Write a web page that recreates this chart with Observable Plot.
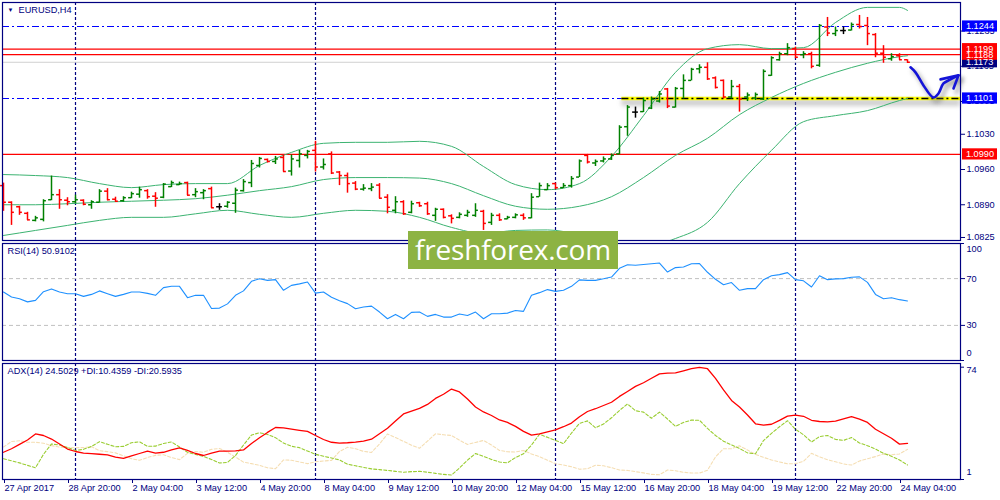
<!DOCTYPE html>
<html><head><meta charset="utf-8">
<script src="https://cdn.jsdelivr.net/npm/d3@7"></script>
<script src="https://cdn.jsdelivr.net/npm/@observablehq/plot@0.6"></script>
<style>
html,body{margin:0;padding:0;background:#fff;}
#chart{position:relative;width:1000px;height:500px;overflow:hidden;background:#fff;}
#chart svg{position:absolute;left:0;}
#wm{position:absolute;left:408px;top:231px;width:210px;height:38px;background:#8db343;color:#fff;
 font-family:"Open Sans",sans-serif;font-size:28px;line-height:36px;text-align:center;letter-spacing:-0.2px;}
</style></head><body><div id="chart"></div>
<script>
// ---------- DATA ----------
const symbol = "EURUSD,H4";
const opens = [1.0928,1.0895,1.0886,1.0873,1.0859,1.0861,1.0900,1.0910,1.0899,1.0896,
1.0899,1.0890,1.0895,1.0917,1.0901,1.0898,1.0904,1.0911,1.0918,1.0907,
1.0905,1.0926,1.0930,1.0934,1.0910,1.0914,1.0922,1.0886,1.0887,1.0893,
1.0918,1.0934,1.0968,1.0980,1.0976,1.0984,1.0957,1.0978,1.0988,1.0998,
1.0965,1.0991,1.0955,1.0948,1.0933,1.0921,1.0922,1.0929,1.0905,1.0879,
1.0896,1.0875,1.0894,1.0892,1.0869,1.0881,1.0868,1.0865,1.0869,1.0869,
1.0877,1.0855,1.0869,1.0862,1.0865,1.0869,1.0864,1.0906,1.0920,1.0932,
1.0924,1.0928,1.0945,1.0988,1.0973,1.0977,1.0981,1.0991,1.1045,1.1074,
1.1075,1.1082,1.1096,1.1120,1.1084,1.1121,1.1137,1.1160,1.1163,1.1142,
1.1137,1.1104,1.1125,1.1104,1.1102,1.1100,1.1147,1.1178,1.1190,1.1200,
1.1188,1.1190,1.1167,1.1243,1.1230,1.1236,1.1237,1.1248,1.1246,1.1228,
1.1191,1.1180,1.1186,1.1178];
const highs = [1.0933,1.0896,1.0887,1.0875,1.0867,1.0900,1.0947,1.0920,1.0904,1.0909,
1.0900,1.0898,1.0920,1.0922,1.0905,1.0906,1.0915,1.0925,1.0920,1.0914,
1.0932,1.0937,1.0935,1.0935,1.0922,1.0920,1.0925,1.0892,1.0896,1.0923,
1.0940,1.0978,1.0984,1.0981,1.0986,1.0988,1.0989,1.0998,1.0998,1.1016,
1.0981,1.0995,1.0956,1.0953,1.0936,1.0930,1.0932,1.0932,1.0910,1.0906,
1.0898,1.0897,1.0895,1.0895,1.0883,1.0882,1.0870,1.0874,1.0879,1.0892,
1.0879,1.0873,1.0872,1.0867,1.0872,1.0872,1.0912,1.0933,1.0932,1.0933,
1.0932,1.0946,1.0979,1.0990,1.0979,1.0985,1.0991,1.1047,1.1087,1.1084,
1.1102,1.1104,1.1115,1.1121,1.1123,1.1148,1.1161,1.1168,1.1172,1.1144,
1.1138,1.1137,1.1129,1.1112,1.1112,1.1158,1.1184,1.1193,1.1210,1.1203,
1.1194,1.1193,1.1248,1.1262,1.1243,1.1243,1.1251,1.1266,1.1262,1.1230,
1.1206,1.1190,1.1190,1.1178];
const lows = [1.0877,1.0849,1.0869,1.0859,1.0856,1.0856,1.0898,1.0881,1.0888,1.0892,
1.0888,1.0881,1.0893,1.0898,1.0895,1.0895,1.0902,1.0903,1.0901,1.0885,
1.0902,1.0924,1.0928,1.0908,1.0904,1.0900,1.0883,1.0879,1.0883,1.0873,
1.0915,1.0924,1.0963,1.0973,1.0970,1.0955,1.0947,1.0963,1.0981,1.0955,
1.0959,1.0950,1.0928,1.0913,1.0918,1.0917,1.0916,1.0902,1.0872,1.0872,
1.0869,1.0872,1.0885,1.0869,1.0857,1.0862,1.0852,1.0862,1.0865,1.0865,
1.0839,1.0849,1.0857,1.0860,1.0862,1.0859,1.0862,1.0905,1.0918,1.0920,
1.0922,1.0923,1.0944,1.0971,1.0966,1.0973,1.0978,1.0989,1.1026,1.1062,
1.1073,1.1079,1.1092,1.1081,1.1082,1.1100,1.1136,1.1150,1.1137,1.1120,
1.1100,1.1100,1.1074,1.1095,1.1097,1.1097,1.1145,1.1175,1.1186,1.1180,
1.1180,1.1160,1.1163,1.1224,1.1224,1.1228,1.1235,1.1239,1.1206,1.1182,
1.1171,1.1175,1.1177,1.1171];
const closes = [1.0895,1.0875,1.0875,1.0860,1.0864,1.0898,1.0910,1.0900,1.0896,1.0900,
1.0891,1.0896,1.0917,1.0900,1.0897,1.0904,1.0912,1.0920,1.0906,1.0903,
1.0931,1.0934,1.0932,1.0909,1.0916,1.0918,1.0884,1.0886,1.0895,1.0919,
1.0936,1.0972,1.0982,1.0976,1.0981,1.0956,1.0981,1.0991,1.0996,1.0965,
1.0970,1.0953,1.0948,1.0932,1.0921,1.0923,1.0925,1.0903,1.0885,1.0896,
1.0872,1.0892,1.0888,1.0872,1.0881,1.0865,1.0863,1.0871,1.0875,1.0879,
1.0853,1.0869,1.0860,1.0865,1.0870,1.0864,1.0905,1.0928,1.0928,1.0924,
1.0928,1.0942,1.0977,1.0975,1.0976,1.0981,1.0988,1.1044,1.1084,1.1074,
1.1097,1.1100,1.1110,1.1086,1.1121,1.1137,1.1159,1.1163,1.1140,1.1123,
1.1104,1.1125,1.1100,1.1108,1.1109,1.1155,1.1182,1.1190,1.1202,1.1183,
1.1190,1.1165,1.1246,1.1231,1.1236,1.1236,1.1248,1.1244,1.1230,1.1191,
1.1183,1.1184,1.1178,1.1173];

// Bollinger bands read at every 4th bar
const bbIdx = [0,4,8,12,16,20,24,28,32,36,40,44,48,52,56,60,64,68,72,76,80,84,88,92,96,100,104,108,112,113];
const bbUpper = [1.0950,1.0948,1.0944,1.0932,1.0924,1.0930,1.0932,1.0932,1.0968,1.0994,
1.1012,1.1014,1.1014,1.1016,1.1006,1.0966,1.0930,1.0920,1.0932,1.0986,
1.1067,1.1153,1.1200,1.1208,1.1200,1.1202,1.1252,1.1282,1.1282,1.1276];
const bbMiddle = [1.0890,1.0890,1.0892,1.0895,1.0897,1.0899,1.0902,1.0909,1.0918,1.0926,
1.0940,1.0944,1.0944,1.0943,1.0932,1.0908,1.0887,1.0881,1.0887,1.0906,
1.0944,1.0988,1.1022,1.1069,1.1103,1.1131,1.1153,1.1171,1.1184,1.1186];
const bbLower = [1.0829,1.0839,1.0849,1.0859,1.0865,1.0865,1.0872,1.0879,1.0871,1.0865,
1.0873,1.0879,1.0877,1.0865,1.0845,1.0833,1.0839,1.0840,1.0831,1.0819,
1.0807,1.0823,1.0855,1.0932,1.0998,1.1055,1.1067,1.1077,1.1097,1.1101];

const rsi = [58.5,54.2,52.8,50.1,51.4,58.8,61.2,58.5,57.1,57.1,
54.8,56.5,59.5,57.1,54.8,56.5,58.5,58.5,57.4,55.7,
62.3,63.4,63.4,53.7,55.7,55.7,44.5,44.8,48.4,55.7,
59.5,67.7,69.8,68.5,69.1,60.0,64.2,65.5,67.1,57.6,
58.5,54.0,51.0,48.6,44.3,45.7,46.5,41.4,35.7,39.4,
35.7,41.1,41.4,37.7,39.4,37.1,37.1,39.8,38.5,41.4,
35.7,40.0,40.0,40.5,42.8,42.0,55.7,58.0,60.6,59.1,
60.0,63.4,68.9,68.5,68.5,69.8,71.3,78.8,81.8,81.4,
82.0,82.7,83.3,75.6,79.4,79.9,82.7,82.8,75.4,69.4,
64.8,66.6,60.0,61.4,61.4,69.1,72.4,73.4,75.1,69.1,
68.1,62.8,72.4,69.1,69.8,70.0,71.1,71.5,66.8,56.5,
52.8,53.7,52.0,50.9102];
const adx = [18.7,21.0,23.8,26.7,30.6,29.6,27.3,24.1,20.8,19.2,
18.1,17.8,17.4,17.0,15.6,14.7,16.3,17.9,19.4,18.1,
18.7,20.2,21.5,19.9,17.9,16.6,18.2,19.4,19.4,19.6,
20.2,24.4,28.1,31.6,34.8,34.6,33.8,33.0,32.3,29.6,
27.0,25.2,24.7,24.9,25.3,26.0,27.2,30.7,34.3,39.0,
43.6,45.5,47.2,49.8,53.7,56.4,59.8,57.9,53.3,48.1,
44.9,42.6,39.7,38.1,35.5,32.3,29.8,30.6,31.9,33.3,
35.3,37.7,41.8,45.2,47.0,49.1,51.2,55.0,58.2,61.5,
63.9,66.8,69.7,70.2,70.3,71.6,73.0,73.9,73.0,66.7,
59.2,52.4,48.1,42.9,37.2,36.3,36.9,39.4,42.2,42.9,
42.1,39.5,38.7,38.4,39.0,40.4,41.8,40.2,38.1,33.7,
30.7,27.8,24.0,24.5029];
const plusDI = [14.5,13.2,11.8,10.2,8.6,17.4,24.1,23.4,21.8,19.9,
20.6,22.5,25.6,23.9,22.3,22.5,24.9,25.5,22.6,22.7,
24.4,25.4,22.1,18.7,17.3,16.0,14.0,11.7,12.1,16.6,
23.4,29.9,31.4,30.3,28.2,24.7,22.6,21.7,19.5,17.4,
16.1,15.0,13.7,10.9,9.9,8.9,7.9,7.4,6.9,6.3,
5.7,6.1,6.3,5.7,5.0,4.3,3.9,8.5,13.6,17.9,
16.0,14.0,12.4,11.8,15.3,17.7,23.4,30.4,28.4,26.4,
24.3,31.2,37.5,39.1,34.6,37.1,41.1,45.9,50.1,45.7,
44.8,40.8,44.8,40.3,35.5,38.1,39.6,39.5,34.2,29.6,
25.9,23.5,21.2,18.3,17.7,26.3,31.0,35.3,39.2,33.6,
30.1,25.4,28.9,29.6,27.1,26.4,28.3,24.7,23.0,20.8,
18.0,16.1,13.7,10.4359];
const minusDI = [22.1,25.7,26.2,25.2,25.2,24.6,23.0,22.1,21.6,21.6,
21.8,22.3,19.7,19.1,18.3,16.4,14.5,13.5,15.3,16.7,
17.1,15.3,13.9,18.0,19.2,18.7,20.6,21.2,18.7,15.6,
12.3,11.3,10.2,8.6,8.0,13.7,13.5,12.4,11.3,12.5,
13.0,13.4,19.2,21.9,21.0,19.3,18.6,24.1,30.6,28.3,
25.8,23.3,21.3,26.0,30.7,30.1,29.6,26.5,23.8,25.1,
26.4,23.4,19.9,19.0,18.9,19.9,17.6,15.8,13.5,11.2,
10.4,9.3,7.7,8.0,10.3,9.9,8.7,7.2,6.9,6.1,
5.3,4.3,4.1,7.2,6.7,5.7,5.2,5.2,7.0,15.7,
21.0,21.0,22.9,20.2,17.3,15.4,13.7,12.4,11.2,11.3,
12.8,18.0,15.7,13.9,12.5,11.1,10.4,13.0,14.5,15.9,
17.6,17.1,17.6,20.5935];

const xTickIdx = [0,8,16,24,32,40,48,56,64,72,80,88,96,104,112];
const xLabels = ["27 Apr 2017","28 Apr 20:00","2 May 04:00","3 May 12:00","4 May 20:00","8 May 04:00",
 "9 May 12:00","10 May 20:00","12 May 04:00","15 May 12:00","16 May 20:00","18 May 04:00",
 "19 May 12:00","22 May 20:00","24 May 04:00"];
const sepIdx = [9,39,69,99];
const priceTicks = [1.0825,1.0890,1.0960,1.1030,1.1095,1.1165,1.1235];
const blueLevels = [1.1244,1.1101];
const redLevels = [1.1199,1.1188,1.0990];
const bidLevel = 1.1173;
const zoneLevel = 1.1101, zoneStart = 77.3;
const labelPrices = [1.1244,1.1199,1.1173,1.1188,1.1101,1.0990];
const rsiLevels = [70,30];
const rsiEnds = [100,0];
const adxEnds = [74,1];
const arrowX = [113.375,114.0,115.0,116.25,116.875,117.5,118.375,119.375];
const arrowY = [1.1163,1.1153,1.1127,1.1103,1.1111,1.1131,1.1139,1.1147];
const headX = [117.125,119.375,118.75];
const headY = [1.1139,1.1147,1.1121];

// ---------- STYLE ----------
const navy = "#000080", up = "#008000", down = "#ff0000", doji = "#000000";
const bandColor = "#3cb371";
const font = "'Liberation Sans', Arial, sans-serif";
const fs = 9.2;
const xDom = [-0.125, 119.625];
const tickLen = 0.36;

const bars = opens.map((o,i)=>({i, o, h: highs[i], l: lows[i], c: closes[i],
  col: closes[i] > o ? up : closes[i] < o ? down : doji}));
const bb = bbIdx.map((i,k)=>({i, u: bbUpper[k], m: bbMiddle[k], l: bbLower[k]}));
const arrow = arrowX.map((x,k)=>({x, y: arrowY[k]}));
const head = headX.map((x,k)=>({x, y: headY[k]}));
const labels = labelPrices.map(p=>({p, bg: p === bidLevel ? navy : blueLevels.includes(p) ? "#0000ff" : "#ff0000"}));

const mainH = 242, mTop = 2, mBot = 2;
const yDom = [1.0819, 1.12917];
const pxPerUnit = (mainH - mTop - mBot) / (yDom[1] - yDom[0]);
const boxHalf = 5.6 / pxPerUnit;
const baseStyle = {fontFamily: font, fontSize: fs + "px", background: "transparent", color: navy, overflow: "visible"};

const main = Plot.plot({
  width: 1000, height: mainH, marginLeft: 2, marginRight: 40, marginTop: mTop, marginBottom: mBot,
  x: {domain: xDom, axis: null},
  y: {domain: yDom, axis: null},
  style: baseStyle,
  marks: [
    Plot.ruleX(sepIdx, {stroke: navy, strokeDasharray: "3,2", strokeWidth: 1.2}),
    Plot.ruleY([bidLevel], {stroke: "#d0d0d0", strokeWidth: 1}),
    Plot.ruleY(redLevels, {stroke: "#ff0000", strokeWidth: 1.2}),
    Plot.ruleY(blueLevels, {stroke: "#0000ff", strokeWidth: 1.2, strokeDasharray: "7,3,2,3"}),
    Plot.ruleY([zoneLevel], {x1: zoneStart, x2: xDom[1], stroke: "#777", strokeOpacity: 0.35, strokeWidth: 7, dy: 4, imageFilter: "blur(2px)"}),
    Plot.ruleY([zoneLevel], {x1: zoneStart, x2: xDom[1], stroke: "#ffff00", strokeWidth: 3.5}),
    Plot.ruleY([zoneLevel], {x1: zoneStart, x2: xDom[1], stroke: "#000", strokeWidth: 1.5, strokeDasharray: "7,3,2,3"}),
    Plot.line(bb, {x: "i", y: "u", stroke: bandColor, strokeWidth: 1, curve: "monotone-x", clip: true}),
    Plot.line(bb, {x: "i", y: "m", stroke: bandColor, strokeWidth: 1, curve: "monotone-x", clip: true}),
    Plot.line(bb, {x: "i", y: "l", stroke: bandColor, strokeWidth: 1, curve: "monotone-x", clip: true}),
    Plot.ruleX(bars, {x: "i", y1: "l", y2: "h", stroke: "col", strokeWidth: 1.5}),
    Plot.ruleY(bars, {y: "o", x1: d=>d.i - tickLen, x2: "i", stroke: "col", strokeWidth: 1.5}),
    Plot.ruleY(bars, {y: "c", x1: "i", x2: d=>d.i + tickLen, stroke: "col", strokeWidth: 1.5}),
    Plot.line(arrow, {x: "x", y: "y", curve: "catmull-rom", stroke: "#666", strokeOpacity: 0.45, strokeWidth: 4, dx: 3, dy: 4, imageFilter: "blur(2px)"}),
    Plot.line(head, {x: "x", y: "y", stroke: "#666", strokeOpacity: 0.45, strokeWidth: 4, dx: 3, dy: 4, imageFilter: "blur(2px)"}),
    Plot.line(arrow, {x: "x", y: "y", curve: "catmull-rom", stroke: "#1414d8", strokeWidth: 2.6, strokeLinecap: "round"}),
    Plot.line(head, {x: "x", y: "y", stroke: "#1414d8", strokeWidth: 2.6, strokeLinecap: "round", strokeLinejoin: "round"}),
    Plot.frame({stroke: navy, strokeWidth: 1.2}),
    Plot.axisY({anchor: "right", ticks: priceTicks, tickFormat: d=>d.toFixed(4), tickSize: 4, tickPadding: 2, fontSize: fs}),
    Plot.rect(labels, {x1: 119.875, x2: 124.25, y1: d=>d.p - boxHalf, y2: d=>d.p + boxHalf, fill: "bg"}),
    Plot.text(labels, {x: 120.3, y: "p", text: d=>d.p.toFixed(4), fill: "#fff", textAnchor: "start", fontSize: fs}),
    Plot.text([symbol], {frameAnchor: "top-left", dx: 16, dy: 4, lineAnchor: "top", textAnchor: "start", fill: navy, fontSize: fs}),
    Plot.text(["\u25BC"], {frameAnchor: "top-left", dx: 5, dy: 5, lineAnchor: "top", textAnchor: "start", fill: navy, fontSize: 6})
  ]
});
main.style.top = "0px";

const rsiPlot = Plot.plot({
  width: 1000, height: 119, marginLeft: 2, marginRight: 40, marginTop: 1, marginBottom: 1,
  x: {domain: xDom, axis: null},
  y: {domain: [0, 100], axis: null},
  style: baseStyle,
  marks: [
    Plot.ruleX(sepIdx, {stroke: navy, strokeDasharray: "3,2", strokeWidth: 1.2}),
    Plot.ruleY(rsiLevels, {stroke: "#c0c0c0", strokeDasharray: "4,3"}),
    Plot.line(rsi, {x: (d,i)=>i, y: d=>d, stroke: "#1e90ff", strokeWidth: 1.1}),
    Plot.frame({stroke: navy, strokeWidth: 1.2}),
    Plot.axisY({anchor: "right", ticks: rsiLevels, tickSize: 4, tickPadding: 2, fontSize: fs}),
    Plot.ruleY(rsiEnds, {x1: xDom[1], x2: xDom[1] + 0.5, stroke: navy}),
    Plot.text([rsiEnds[0]], {x: xDom[1], y: d=>d, dx: 6, dy: 6, text: d=>String(d), textAnchor: "start", fill: navy}),
    Plot.text([rsiEnds[1]], {x: xDom[1], y: d=>d, dx: 6, dy: -7, text: d=>String(d), textAnchor: "start", fill: navy}),
    Plot.text([`RSI(14) ${rsi[rsi.length-1].toFixed(4)}`], {frameAnchor: "top-left", dx: 5, dy: 4, lineAnchor: "top", textAnchor: "start", fill: navy})
  ]
});
rsiPlot.style.top = "242px";

const adxPlot = Plot.plot({
  width: 1000, height: 138, marginLeft: 2, marginRight: 40, marginTop: 1, marginBottom: 21,
  x: {domain: xDom, axis: null},
  y: {domain: [1, 76.4], axis: null},
  style: baseStyle,
  marks: [
    Plot.ruleX(sepIdx, {stroke: navy, strokeDasharray: "3,2", strokeWidth: 1.2}),
    Plot.line(minusDI, {x: (d,i)=>i, y: d=>d, stroke: "#f5deb3", strokeWidth: 1.1, strokeDasharray: "3,2"}),
    Plot.line(plusDI, {x: (d,i)=>i, y: d=>d, stroke: "#9acd32", strokeWidth: 1.1, strokeDasharray: "3,2"}),
    Plot.line(adx, {x: (d,i)=>i, y: d=>d, stroke: "#ff0000", strokeWidth: 1.3}),
    Plot.frame({stroke: navy, strokeWidth: 1.2}),
    Plot.axisX({anchor: "bottom", ticks: xTickIdx, tickFormat: d=>xLabels[xTickIdx.indexOf(d)], tickSize: 4, tickPadding: 1, textAnchor: "start", dx: 1, fontSize: fs}),
    Plot.ruleY(adxEnds, {x1: xDom[1], x2: xDom[1] + 0.5, stroke: navy}),
    Plot.text([adxEnds[0]], {x: xDom[1], y: d=>d, dx: 6, dy: 3, text: d=>String(d), textAnchor: "start", fill: navy}),
    Plot.text([adxEnds[1]], {x: xDom[1], y: d=>d, dx: 6, dy: -7, text: d=>String(d), textAnchor: "start", fill: navy}),
    Plot.text([`ADX(14) ${adx[adx.length-1].toFixed(4)} +DI:${plusDI[plusDI.length-1].toFixed(4)} -DI:${minusDI[minusDI.length-1].toFixed(4)}`],
      {frameAnchor: "top-left", dx: 5, dy: 4, lineAnchor: "top", textAnchor: "start", fill: navy})
  ]
});
adxPlot.style.top = "362px";

const chart = document.getElementById("chart");
chart.append(main, rsiPlot, adxPlot);
const wm = document.createElement("div");
wm.id = "wm";
wm.textContent = "freshforex.com";
chart.append(wm);
</script></body></html>
